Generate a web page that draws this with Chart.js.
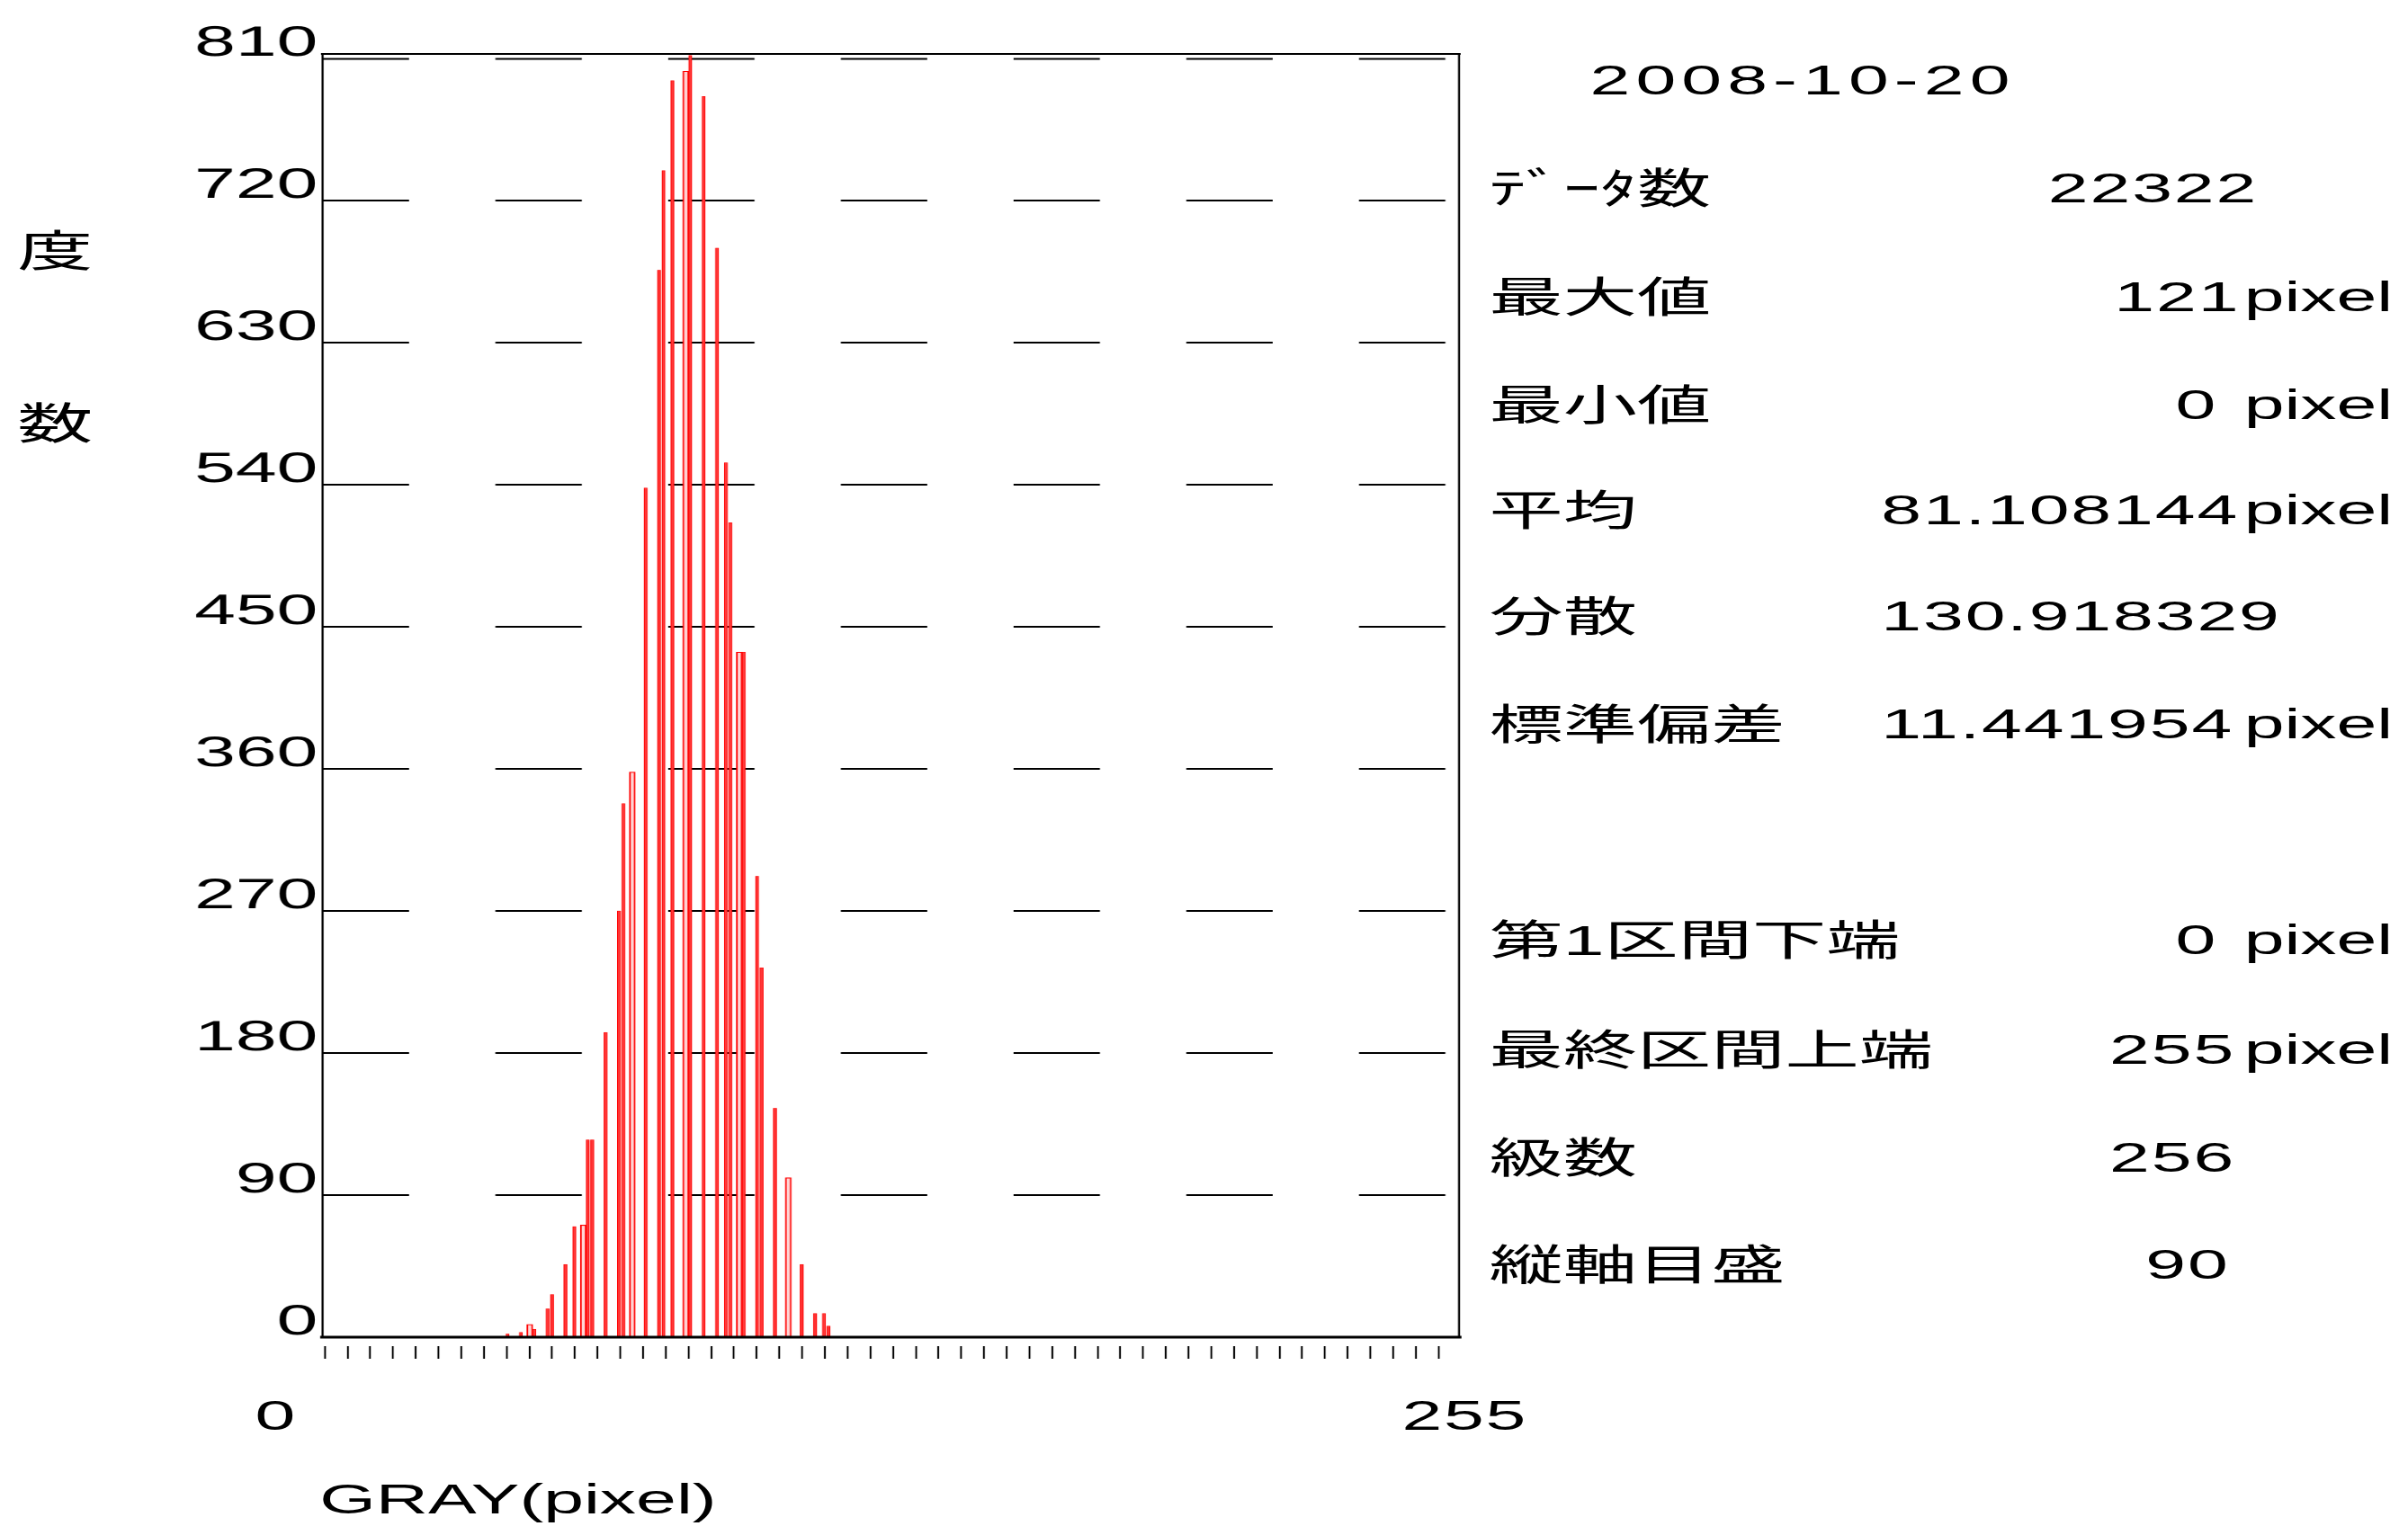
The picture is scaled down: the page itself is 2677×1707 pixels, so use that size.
<!DOCTYPE html>
<html lang="ja">
<head>
<meta charset="utf-8">
<title>GRAY histogram 2008-10-20</title>
<script src="https://cdn.jsdelivr.net/npm/chart.js@4.4.1/dist/chart.umd.min.js"></script>
<style>
  html, body { margin: 0; padding: 0; background: #fff; overflow: hidden; }
  /* the original picture is stretched sideways, so the whole page is too */
  #page { position: absolute; left: 0; top: 0; width: 1530px; height: 1707px;
          transform: scaleX(1.75); transform-origin: 0 0; }
  #chart { position: absolute; left: 0; top: 0; }
  .txt { position: absolute; white-space: nowrap; color: #000;
         font-family: 'Liberation Sans', 'Noto Sans CJK JP', sans-serif; }
</style>
</head>
<body>
<div id="page">
  <canvas id="chart" width="960" height="1707"></canvas>
</div>
<script>
'use strict';

// histogram: gray value -> count
const grayBins  = [41, 44, 46, 47, 50, 51, 54, 56, 58, 59, 60, 63, 66, 67, 69, 72, 75, 76, 78, 81,
                   82, 85, 88, 90, 91, 93, 94, 97, 98, 101, 104, 107, 110, 112, 113];
const binCounts = [2, 3, 8, 5, 18, 27, 46, 70, 71, 125, 125, 193, 270, 338, 358, 538, 676, 739, 796, 802,
                   812, 786, 690, 554, 516, 434, 434, 292, 234, 145, 101, 46, 15, 15, 7];
// bins the original draws as wider, hollow bars
const wideBins  = [46, 58, 69, 81, 93, 104];

const yTicks = [0, 90, 180, 270, 360, 450, 540, 630, 720, 810];
const xTickStep = 5.1;
const xTickCount = 50;
const xEndLabels = ['0', '255'];
const xTitle = 'GRAY(pixel)';
const yTitle = ['度', '数'];

const statDate   = '2008-10-20';
const statLabels = ['ﾃﾞｰﾀ数', '最大値', '最小値', '平均', '分散', '標準偏差',
                    '第1区間下端', '最終区間上端', '級数', '縦軸目盛'];
const statValues = ['22322', '121', '0', '81.108144', '130.918329', '11.441954',
                    '0', '255', '256', '90'];
const statUnits  = ['', 'pixel', 'pixel', 'pixel', '', 'pixel', 'pixel', 'pixel', '', ''];

// layout, in unstretched page px
const PLOT = { left: 204.9, right: 926.9, top: 60, bottom: 1487 };
const CANVAS_W = 960, CANVAS_H = 1707;
const rowY   = [209, 330, 450, 567, 685, 805, 1045, 1167, 1287, 1406];
const valueX = [1301, 1343, 1382, 1195, 1195, 1195, 1382, 1340, 1340, 1363];
const unitX  = 1425.5;

let page = document.getElementById('page');

function addText(str, left, centerY, size, spacing) {
    let d = document.createElement('div');
    d.className = 'txt';
    d.textContent = str;
    d.style.left = left + 'px';
    d.style.top = (centerY - size / 2) + 'px';
    d.style.fontSize = size + 'px';
    d.style.lineHeight = size + 'px';
    if (spacing) d.style.letterSpacing = spacing + 'px';
    page.appendChild(d);
}

// axis titles and end labels
addText(yTitle[0], 11, 280, 48);
addText(yTitle[1], 11, 472, 48);
addText(xEndLabels[0], 162, 1574, 46);
addText(xEndLabels[1], 890.5, 1574, 46, 1);
addText(xTitle, 203, 1667, 46);

// statistics panel
addText(statDate, 1010, 89, 46, 3.5);
for (let i = 0; i < statLabels.length; i++) {
    addText(statLabels[i], 946, rowY[i], 47);
    addText(statValues[i], valueX[i], rowY[i], 46, 1.1);
    if (statUnits[i]) addText(statUnits[i], unitX, rowY[i], 46);
}

let xTickValues = [];
for (let k = 0; k < xTickCount; k++) {
    xTickValues.push(Math.round(k * xTickStep * 10) / 10);
}

let points = grayBins.map((b, i) => ({ x: b, y: binCounts[i] }));
let thinPts = points.filter(p => !wideBins.includes(p.x));
let widePts = points.filter(p => wideBins.includes(p.x));

// plot frame: thin top / sides, heavier base line
const framePlugin = {
    id: 'frame',
    afterDatasetsDraw(chart) {
        const { ctx, chartArea: a } = chart;
        ctx.save();
        ctx.strokeStyle = '#000';
        ctx.lineCap = 'square';
        const seg = (w, x1, y1, x2, y2) => {
            ctx.lineWidth = w;
            ctx.beginPath();
            ctx.moveTo(x1, y1);
            ctx.lineTo(x2, y2);
            ctx.stroke();
        };
        seg(2, a.left, a.top, a.right, a.top);
        seg(3, a.left, a.bottom, a.right, a.bottom);
        seg(1.3, a.left, a.top, a.left, a.bottom);
        seg(1.3, a.right, a.top, a.right, a.bottom);
        ctx.restore();
    }
};

new Chart(document.getElementById('chart'), {
    type: 'bar',
    data: {
        datasets: [{
            label: '度数',
            data: thinPts,
            backgroundColor: '#ff3a3a',
            borderColor: '#ff0000',
            borderWidth: 0.6,
            borderSkipped: 'start',
            barThickness: 1.8,
            grouped: false
        },
        {
            label: '度数 wide',
            data: widePts,
            backgroundColor: '#ffd6d6',
            borderColor: '#ff0000',
            borderWidth: 1.05,
            borderSkipped: 'start',
            barThickness: 3.5,
            grouped: false
        }]
    },
    options: {
        responsive: false,
        animation: false,
        devicePixelRatio: 2,
        layout: {
            padding: { left: 0, right: CANVAS_W - PLOT.right, top: PLOT.top, bottom: CANVAS_H - PLOT.bottom - 40 }
        },
        plugins: {
            legend: { display: false },
            tooltip: { enabled: false }
        },
        scales: {
            x: {
                type: 'linear',
                min: -0.5,
                max: 254.5,
                offset: false,
                afterBuildTicks: s => { s.ticks = xTickValues.map(v => ({ value: v })); },
                afterFit: s => { s.height = 40; },
                ticks: { display: false },
                border: { display: false },
                grid: {
                    offset: false,
                    drawOnChartArea: false,
                    drawTicks: true,
                    tickLength: 24,
                    tickWidth: 1.15,
                    tickColor: '#000',
                    tickBorderDash: [14, 10],
                    tickBorderDashOffset: 14
                }
            },
            y: {
                min: 0,
                max: 813,
                afterBuildTicks: s => { s.ticks = yTicks.map(v => ({ value: v })); },
                afterFit: s => { s.width = PLOT.left; },
                ticks: {
                    color: '#000',
                    font: { family: 'Liberation Sans', size: 47 },
                    padding: 3,
                    labelOffset: -16,
                    autoSkip: false
                },
                // in v4 the grid line dash lives under border
                border: { display: false, dash: [54.86, 54.86] },
                grid: {
                    color: '#000',
                    lineWidth: 2,
                    drawTicks: false
                }
            }
        }
    },
    plugins: [framePlugin]
});
</script>
</body>
</html>
